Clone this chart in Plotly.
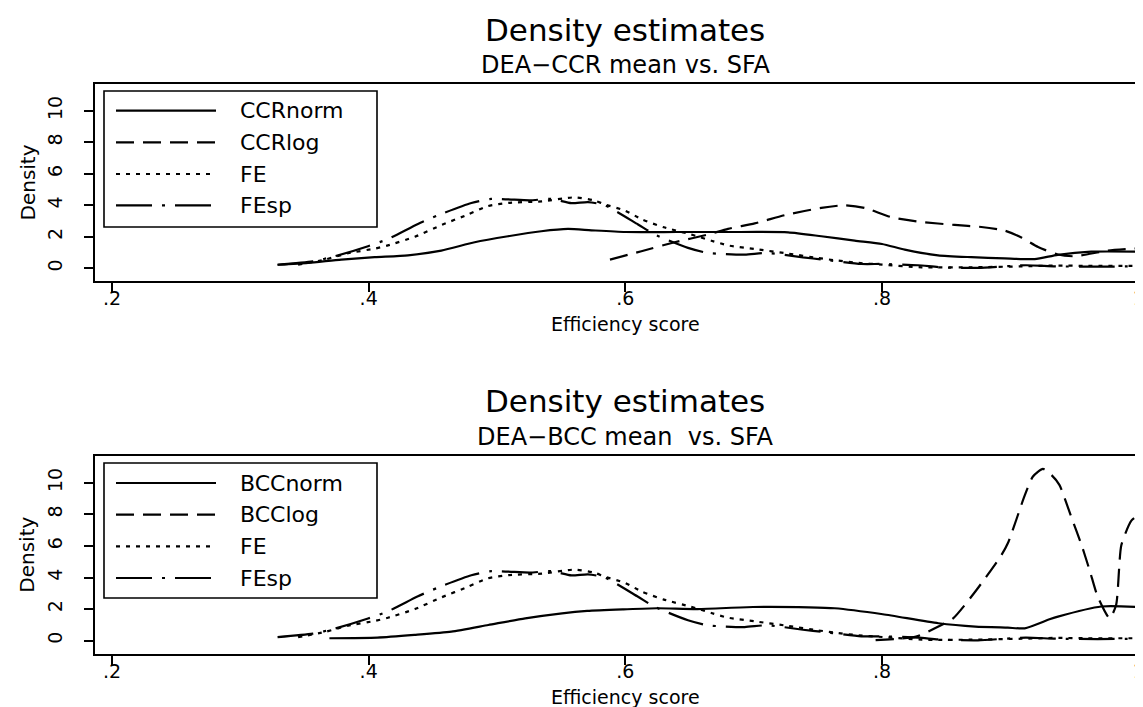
import plotly.graph_objects as go

# ---------------- data ----------------
ccr_norm_x = [0.329, 0.3527, 0.3787, 0.4047, 0.4306, 0.4566, 0.4826, 0.5086, 0.5345, 0.5553, 0.5735,
              0.60, 0.64, 0.68, 0.7268, 0.7527, 0.7787, 0.80, 0.8177, 0.8436, 0.8696, 0.8956, 0.919,
              0.937, 0.963, 1.0]
ccr_norm_y = [0.22, 0.34, 0.55, 0.70, 0.82, 1.12, 1.65, 2.03, 2.35, 2.50, 2.41,
              2.30, 2.30, 2.30, 2.28, 2.03, 1.75, 1.54, 1.18, 0.82, 0.70, 0.62, 0.58,
              0.85, 1.05, 1.05]

ccr_log_x = [0.588, 0.6125, 0.6384, 0.6644, 0.680, 0.7008, 0.7268, 0.7527, 0.771, 0.7865, 0.8073,
             0.8306, 0.8566, 0.8774, 0.8956, 0.9086, 0.9216, 0.937, 0.950, 0.976, 1.0]
ccr_log_y = [0.55, 1.08, 1.65, 2.14, 2.50, 2.85, 3.42, 3.83, 4.0, 3.83, 3.24,
             2.94, 2.75, 2.62, 2.39, 1.95, 1.35, 0.87, 0.76, 1.12, 1.27]

fe_x = [0.345, 0.366, 0.384, 0.405, 0.415, 0.436, 0.457, 0.477, 0.493, 0.509, 0.535, 0.5605, 0.576,
        0.584, 0.600, 0.613, 0.630, 0.651, 0.667, 0.680, 0.701, 0.727, 0.750, 0.766, 0.780, 0.800,
        0.831, 0.870, 0.909, 0.935, 0.960, 1.0]
fe_y = [0.22, 0.55, 0.95, 1.25, 1.45, 2.0, 2.75, 3.4, 3.95, 4.15, 4.25, 4.5, 4.3,
        4.05, 3.65, 3.1, 2.6, 2.15, 1.75, 1.45, 1.22, 0.93, 0.65, 0.48, 0.35, 0.23,
        0.06, 0.06, 0.12, 0.17, 0.15, 0.15]

fesp_x = [0.329, 0.3565, 0.3735, 0.3995, 0.4151, 0.4384, 0.454, 0.480, 0.4956, 0.5255, 0.5423, 0.558,
          0.5709, 0.5839, 0.6099, 0.6229, 0.6488, 0.6644, 0.693, 0.7099, 0.7384, 0.754, 0.7839,
          0.8008, 0.828, 0.8462, 0.8748, 0.912, 0.935, 0.968, 1.0]
fesp_y = [0.22, 0.44, 0.76, 1.40, 1.86, 2.81, 3.36, 4.14, 4.40, 4.31, 4.40, 4.13,
          4.20, 4.0, 2.78, 2.14, 1.29, 0.97, 0.86, 0.97, 0.69, 0.55, 0.27,
          0.27, 0.19, 0.06, 0.02, 0.19, 0.12, 0.10, 0.12]

bcc_norm_x = [0.3694, 0.4068, 0.4356, 0.4644, 0.4932, 0.522, 0.5507, 0.5703, 0.5986, 0.6246, 0.6563,
              0.6996, 0.7429, 0.7631, 0.8006, 0.8439, 0.8727, 0.898, 0.9112, 0.9305, 0.9371, 0.9709, 1.0]
bcc_norm_y = [0.15, 0.19, 0.36, 0.57, 0.99, 1.41, 1.73, 1.88, 1.98, 2.05, 2.0,
              2.13, 2.11, 2.05, 1.67, 1.10, 0.89, 0.82, 0.78, 1.35, 1.52, 2.16, 2.13]

bcc_log_x = [0.795, 0.8265, 0.8439, 0.8554, 0.8727, 0.8929, 0.8982, 0.9112, 0.9176, 0.9254, 0.932,
             0.9382, 0.9478, 0.9553, 0.962, 0.968, 0.9774, 0.9824, 0.9865, 0.9943, 1.0]
bcc_log_y = [0.03, 0.25, 0.89, 1.41, 3.11, 5.4, 6.2, 9.2, 10.4, 10.88, 10.5,
             9.87, 7.76, 6.1, 4.4, 2.8, 1.41, 2.26, 6.06, 7.6, 7.97]

x_tick_vals = [0.2, 0.4, 0.6, 0.8, 1.0]
x_tick_text = [".2", ".4", ".6", ".8", "1"]
y_tick_vals = [0, 2, 4, 6, 8, 10]
y_tick_text = ["0", "2", "4", "6", "8", "10"]

top_names = ["CCRnorm", "CCRlog", "FE", "FEsp"]
bottom_names = ["BCCnorm", "BCClog", "FE", "FEsp"]
top_title = "Density estimates"
top_subtitle = "DEA\u2212CCR mean vs. SFA"
bottom_title = "Density estimates"
bottom_subtitle = "DEA\u2212BCC mean  vs. SFA"
x_title = "Efficiency score"
y_title = "Density"

# ---------------- styling ----------------
W, H = 1143, 707
FONT = "DejaVu Sans, Liberation Sans, Arial, sans-serif"
DASHES = ["solid", "18px,9px", "4px,6px", "36px,10px,3px,10px"]
LW = 2.2


def px(x):
    return x / W


def py(y):
    return 1 - y / H


x_range = [0.2 - 17.3 / 1283.4, 1.0 + 12.3 / 1283.4]
y_range = [-0.83, 11.72]

top_dom = [py(273.3), py(75.7)]
bot_dom = [py(645.7), py(447.7)]
x_dom = [px(86.7), 1.0]

fig = go.Figure()

top_series = [(ccr_norm_x, ccr_norm_y), (ccr_log_x, ccr_log_y), (fe_x, fe_y), (fesp_x, fesp_y)]
bot_series = [(bcc_norm_x, bcc_norm_y), (bcc_log_x, bcc_log_y), (fe_x, fe_y), (fesp_x, fesp_y)]

for (xs, ys), name, dash in zip(top_series, top_names, DASHES):
    fig.add_trace(go.Scatter(x=xs, y=ys, name=name, mode="lines", xaxis="x", yaxis="y",
                             line=dict(color="black", width=LW, dash=dash, shape="spline", smoothing=0.6),
                             showlegend=False))
for (xs, ys), name, dash in zip(bot_series, bottom_names, DASHES):
    fig.add_trace(go.Scatter(x=xs, y=ys, name=name, mode="lines", xaxis="x2", yaxis="y2",
                             line=dict(color="black", width=LW, dash=dash, shape="spline", smoothing=0.6),
                             showlegend=False))

axis_common = dict(showgrid=False, zeroline=False, showline=True, linecolor="black", linewidth=2,
                   ticks="outside", ticklen=9, tickwidth=1.5, tickcolor="black",
                   tickfont=dict(family=FONT, size=19, color="black"))

xa = dict(axis_common, range=x_range, domain=x_dom, tickmode="array", tickvals=x_tick_vals,
          ticktext=x_tick_text, mirror=True, ticklabelstandoff=-10)
ya = dict(axis_common, range=y_range, tickmode="array", tickvals=y_tick_vals,
          ticktext=y_tick_text, tickangle=-90, mirror=False, ticklabelstandoff=14)

annotations = []
shapes = []


def panel_decor(title, subtitle, ty, sy, frame_top, frame_bottom, names, legend_box, rows):
    cx = px(617)
    annotations.append(dict(text=title, x=cx, y=py(ty), xref="paper", yref="paper", showarrow=False,
                            xanchor="center", yanchor="middle", font=dict(family=FONT, size=31, color="black")))
    annotations.append(dict(text=subtitle, x=cx, y=py(sy), xref="paper", yref="paper", showarrow=False,
                            xanchor="center", yanchor="middle", font=dict(family=FONT, size=24, color="black")))
    # x axis title
    annotations.append(dict(text=x_title, x=cx, y=py(frame_bottom + 43), xref="paper", yref="paper",
                            showarrow=False, xanchor="center", yanchor="middle",
                            font=dict(family=FONT, size=19, color="black")))
    # y axis title
    annotations.append(dict(text=y_title, x=px(19), y=py((frame_top + frame_bottom) / 2), xref="paper",
                            yref="paper", showarrow=False, textangle=-90, xanchor="center", yanchor="middle",
                            font=dict(family=FONT, size=20, color="black")))
    # legend box
    x0, y0, x1, y1 = legend_box
    shapes.append(dict(type="rect", xref="paper", yref="paper", x0=px(x0), x1=px(x1), y0=py(y1), y1=py(y0),
                       line=dict(color="black", width=1.6), fillcolor="white", layer="above"))
    for name, dash, ry in zip(names, DASHES, rows):
        shapes.append(dict(type="line", xref="paper", yref="paper", x0=px(108), x1=px(208),
                           y0=py(ry), y1=py(ry), line=dict(color="black", width=LW, dash=dash), layer="above"))
        annotations.append(dict(text=name, x=px(230), y=py(ry), xref="paper", yref="paper", showarrow=False,
                                xanchor="left", yanchor="middle", font=dict(family=FONT, size=22, color="black")))


panel_decor(top_title, top_subtitle, 22, 57, 75.7, 273.3, top_names,
            (96, 83, 369, 219), [102.7, 134.3, 166, 197.3])
panel_decor(bottom_title, bottom_subtitle, 393, 428.5, 447.7, 645.7, bottom_names,
            (96, 455, 369, 590), [475, 506.7, 538.3, 570])

fig.update_layout(
    width=W, height=H,
    margin=dict(l=0, r=0, t=0, b=0),
    paper_bgcolor="white", plot_bgcolor="white",
    showlegend=False,
    xaxis=dict(xa, anchor="y"),
    yaxis=dict(ya, domain=top_dom, anchor="x"),
    xaxis2=dict(xa, anchor="y2"),
    yaxis2=dict(ya, domain=bot_dom, anchor="x2"),
    annotations=annotations,
    shapes=shapes,
)

fig.write_html("out.html")
